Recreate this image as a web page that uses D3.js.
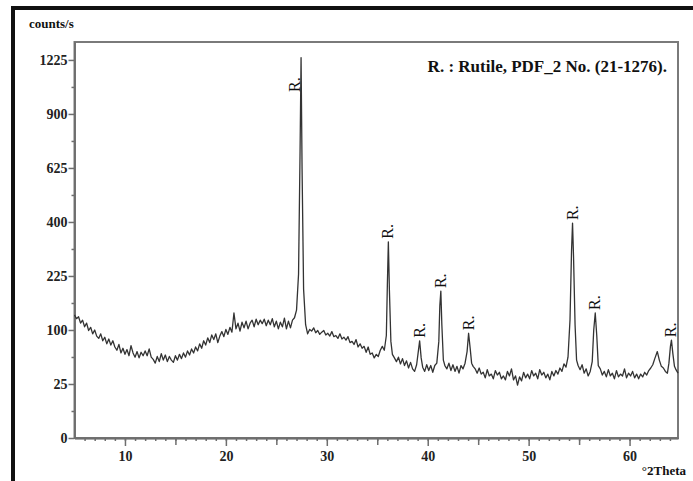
<!DOCTYPE html>
<html>
<head>
<meta charset="utf-8">
<script src="https://cdn.jsdelivr.net/npm/d3@7"></script>
<style>
  body { margin: 0; background: #fff; }
  svg { display: block; }
  text { font-family: "Liberation Serif", "Times New Roman", serif; fill: #111; }
  .axis text { font-size: 14px; font-weight: bold; fill: #222; }
  .axis path, .axis line { stroke: #6e6e6e; stroke-width: 1.5; }
</style>
</head>
<body>
<div id="vis"></div>
<script>
var W = 693, H = 481;
var padL = 74.5, padR = 678, padT = 42, padB = 438;

// diffraction scan, [2theta, counts/s]
var scan = [
  [5.0,130],[5.2,122],[5.4,126],[5.6,113],[5.8,119],[6.0,106],[6.2,113],[6.4,99],[6.6,105],[6.8,93],
  [7.0,100],[7.2,89],[7.4,85],[7.6,93],[7.8,81],[8.0,87],[8.2,76],[8.4,84],[8.6,74],[8.8,81],
  [9.0,71],[9.2,66],[9.4,75],[9.6,62],[9.8,69],[10.0,60],[10.2,67],[10.4,58],[10.6,73],[10.8,62],
  [11.0,56],[11.2,64],[11.4,55],[11.6,63],[11.8,58],[12.0,65],[12.2,58],[12.4,68],[12.6,56],[12.8,53],
  [13.0,48],[13.2,57],[13.4,50],[13.6,61],[13.8,52],[14.0,59],[14.2,50],[14.4,57],[14.6,52],[14.8,49],
  [15.0,58],[15.2,52],[15.4,60],[15.6,54],[15.8,62],[16.0,56],[16.2,65],[16.4,59],[16.6,68],[16.8,62],
  [17.0,71],[17.2,65],[17.4,76],[17.6,69],[17.8,81],[18.0,74],[18.2,86],[18.4,78],[18.6,91],[18.8,83],
  [19.0,93],[19.2,78],[19.4,89],[19.6,97],[19.8,88],[20.0,101],[20.2,92],[20.4,105],[20.6,96],[20.8,134],
  [21.0,102],[21.2,113],[21.4,98],[21.6,115],[21.8,104],[22.0,117],[22.2,102],[22.4,113],[22.6,119],[22.8,106],
  [23.0,121],[23.2,110],[23.4,119],[23.6,112],[23.8,121],[24.0,108],[24.2,119],[24.4,110],[24.6,122],[24.8,106],
  [25.0,117],[25.2,102],[25.4,115],[25.6,106],[25.8,123],[26.0,102],[26.2,117],[26.4,104],[26.6,119],[26.8,124],
  [27.0,140],[27.2,230],[27.35,700],[27.45,1240],[27.55,620],[27.7,190],[27.9,110],
  [28.1,93],[28.3,101],[28.5,98],[28.7,104],[28.9,95],[29.1,99],[29.3,92],[29.5,96],[29.7,99],[29.9,91],
  [30.1,94],[30.3,89],[30.5,97],[30.7,88],[30.9,90],[31.1,85],[31.3,93],[31.5,84],[31.7,87],[31.9,82],
  [32.1,88],[32.3,78],[32.5,80],[32.7,75],[32.9,83],[33.1,71],[33.3,76],[33.5,69],[33.7,72],[33.9,63],
  [34.1,71],[34.3,60],[34.5,62],[34.7,55],[34.9,60],[35.1,57],[35.3,66],[35.5,72],[35.7,66],[35.9,90],
  [36.0,200],[36.1,330],[36.2,190],[36.35,80],[36.5,60],[36.7,55],[36.9,50],[37.1,56],[37.3,47],[37.5,54],
  [37.7,45],[37.9,51],[38.1,42],[38.3,49],[38.5,41],[38.7,38],[38.9,46],[39.05,62],[39.2,81],[39.35,55],
  [39.5,43],[39.7,38],[39.9,46],[40.1,39],[40.3,45],[40.5,37],[40.7,45],[40.9,48],[41.1,80],[41.2,150],
  [41.3,185],[41.4,110],[41.55,52],[41.7,45],[41.9,41],[42.1,48],[42.3,39],[42.5,46],[42.7,38],[42.9,44],
  [43.1,36],[43.3,45],[43.5,41],[43.7,48],[43.9,64],[44.05,94],[44.2,70],[44.35,48],[44.5,44],[44.7,41],
  [44.9,36],[45.1,42],[45.3,35],[45.5,37],[45.7,31],[45.9,40],[46.1,33],[46.3,35],[46.5,30],[46.7,39],
  [46.9,34],[47.1,37],[47.3,30],[47.5,33],[47.7,29],[47.9,38],[48.1,33],[48.3,41],[48.5,29],[48.7,33],
  [48.9,24],[49.1,32],[49.3,28],[49.5,37],[49.7,31],[49.9,35],[50.1,30],[50.3,39],[50.5,33],[50.7,36],
  [50.9,30],[51.1,40],[51.3,34],[51.5,37],[51.7,31],[51.9,35],[52.1,29],[52.3,38],[52.5,33],[52.7,39],
  [52.9,35],[53.1,42],[53.3,38],[53.5,47],[53.7,43],[53.9,56],[54.1,120],[54.25,300],[54.35,396],[54.45,280],
  [54.6,110],[54.75,52],[54.9,45],[55.1,40],[55.3,46],[55.5,36],[55.7,41],[55.9,33],[56.1,38],[56.3,50],
  [56.45,100],[56.6,134],[56.75,90],[56.9,45],[57.1,41],[57.3,34],[57.5,38],[57.7,32],[57.9,40],[58.1,33],
  [58.3,36],[58.5,30],[58.7,39],[58.9,32],[59.1,35],[59.3,33],[59.5,41],[59.7,31],[59.9,36],[60.1,33],
  [60.3,38],[60.5,31],[60.7,35],[60.9,30],[61.1,35],[61.3,32],[61.5,37],[61.7,34],[61.9,39],[62.1,42],
  [62.3,46],[62.5,54],[62.75,64],[62.95,52],[63.15,44],[63.35,42],[63.55,38],[63.75,36],[63.9,48],[64.05,72],
  [64.15,82],[64.3,60],[64.45,44],[64.6,40],[64.8,36]
];

// rutile reflections that carry an "R." mark: [2theta, peak counts/s]
var rutilePeaks = [[27.45,1240],[36.1,330],[39.2,81],[41.3,185],[44.05,94],[54.35,396],[56.6,134],[64.15,82]];

var yTicks = [0, 25, 100, 225, 400, 625, 900, 1225];
var yMinorTicks = [6.25, 56.25, 156.25, 306.25, 506.25, 756.25, 1056.25];
var xTicks = [10, 20, 30, 40, 50, 60];
var xMidTicks = [15, 25, 35, 45, 55];

var svg = d3.select("div#vis").append("svg")
  .attr("width", W)
  .attr("height", H);

var x = d3.scaleLinear().domain([5, 64.8]).range([padL, padR]);
var y = d3.scaleSqrt().domain([0, 1344]).range([padB, padT]);

// outer black border (top and left only)
svg.append("line").attr("x1", 11).attr("x2", W).attr("y1", 8).attr("y2", 8)
  .style("stroke", "#111").style("stroke-width", 4);
svg.append("line").attr("x1", 13).attr("x2", 13).attr("y1", 6).attr("y2", H)
  .style("stroke", "#111").style("stroke-width", 4);

// plot frame
svg.append("rect")
  .attr("x", padL).attr("y", padT)
  .attr("width", padR - padL).attr("height", padB - padT)
  .style("fill", "none").style("stroke", "#7a7a7a").style("stroke-width", 2);

// y axis
svg.append("g").attr("class", "axis")
  .attr("transform", "translate(" + padL + ",0)")
  .call(d3.axisLeft(y).tickValues(yMinorTicks).tickSize(3).tickSizeOuter(0).tickFormat(""));
svg.append("g").attr("class", "axis")
  .attr("transform", "translate(" + padL + ",0)")
  .call(d3.axisLeft(y).tickValues(yTicks).tickSize(6).tickSizeOuter(0).tickPadding(1)
    .tickFormat(d3.format("d")));

// x axis
svg.append("g").attr("class", "axis")
  .attr("transform", "translate(0," + padB + ")")
  .call(d3.axisBottom(x).tickValues(d3.range(6, 65, 1)).tickSize(3).tickSizeOuter(0).tickFormat(""));
svg.append("g").attr("class", "axis")
  .attr("transform", "translate(0," + padB + ")")
  .call(d3.axisBottom(x).tickValues(xMidTicks).tickSize(7).tickSizeOuter(0).tickFormat(""));
svg.append("g").attr("class", "axis")
  .attr("transform", "translate(0," + padB + ")")
  .call(d3.axisBottom(x).tickValues(xTicks).tickSize(8).tickSizeOuter(0).tickPadding(5));

// the scan
var line = d3.line()
  .x(function(d) { return x(d[0]); })
  .y(function(d) { return y(d[1]); });

svg.append("path").datum(scan)
  .attr("d", line)
  .style("fill", "none")
  .style("stroke", "#333")
  .style("stroke-width", 1.3)
  .style("stroke-linejoin", "round");

// R. marks above the peaks (the big one sits beside its peak)
svg.selectAll("text.mark").data(rutilePeaks).enter().append("text")
  .attr("class", "mark")
  .attr("transform", function(d) {
    var px = x(d[0]), py = y(d[1]) - 3;
    if (py - 18 < padT) { px = px - 1; py = padT + 50; } else { px = px + 5; }
    return "translate(" + px + "," + py + ") rotate(-90)";
  })
  .style("font-size", "16px")
  .text("R.");

// texts
svg.append("text").attr("x", 29).attr("y", 28)
  .style("font-size", "13px").style("font-weight", "bold")
  .text("counts/s");

svg.append("text").attr("x", 686).attr("y", 475)
  .attr("text-anchor", "end")
  .style("font-size", "13px").style("font-weight", "bold")
  .text("°2Theta");

svg.append("text").attr("x", 667).attr("y", 72)
  .attr("text-anchor", "end")
  .style("font-size", "17px").style("font-weight", "bold")
  .text("R. : Rutile, PDF_2 No. (21-1276).");
</script>
</body>
</html>
